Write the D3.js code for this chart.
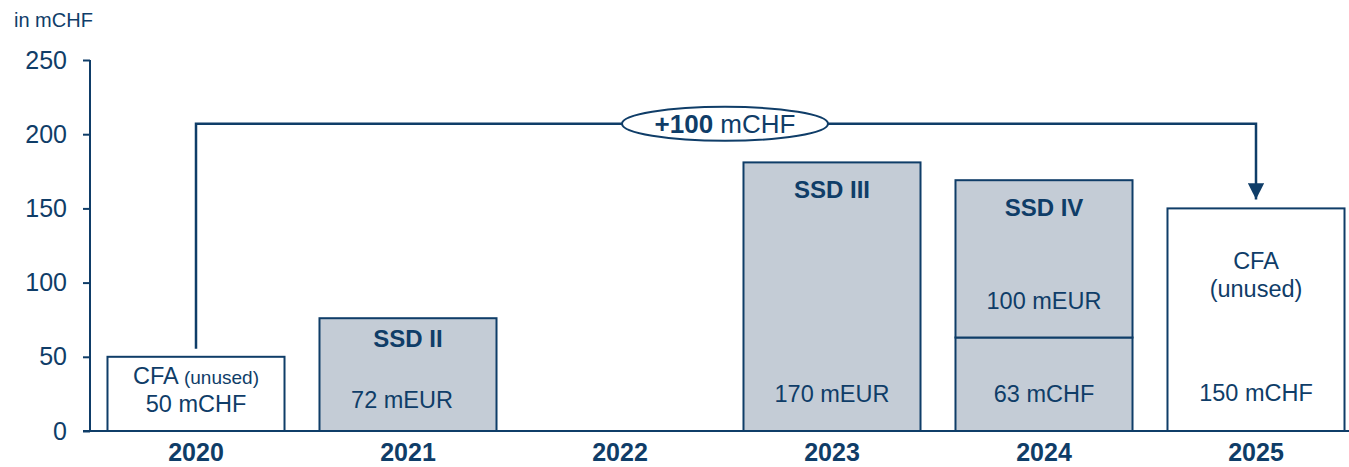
<!DOCTYPE html>
<meta charset="utf-8">
<style>
    html, body { margin: 0; background: #fff; }
    text { font-family: "Liberation Sans", Arial, sans-serif; fill: #0f3d68; }
    .axis path, .axis line { stroke: #0f3d68; stroke-width: 2px; }
    .axis text { font-size: 25px; fill: #0f3d68; font-family: "Liberation Sans", Arial, sans-serif; }
    .bar { stroke: #0f3d68; stroke-width: 2px; }
    .lbl { font-size: 23.5px; text-anchor: middle; }
    .ttl { font-size: 24px; font-weight: bold; text-anchor: middle; }
    .yr { font-size: 25px; font-weight: bold; text-anchor: middle; }
</style>
<body>
<script src="https://cdn.jsdelivr.net/npm/d3@7"></script>
<script>
    // data (mCHF)
    var years = ["2020", "2021", "2022", "2023", "2024", "2025"];
    var kind = ["cfa", "ssd", "none", "ssd", "ssd", "cfa"];
    var baseVals = [50, 76, 0, 181, 63, 150];
    var topVals = [0, 0, 0, 0, 106, 0];
    var titles = ["", "SSD II", "", "SSD III", "SSD IV", ""];
    var amounts = ["50 mCHF", "72 mEUR", "", "170 mEUR", "63 mCHF", "150 mCHF"];
    var topAmounts = ["", "", "", "", "100 mEUR", ""];
    var yTicks = [0, 50, 100, 150, 200, 250];
    var bridgeFrom = "2020", bridgeTo = "2025", bridgeLevel = 207;

    var width = 1349, height = 467;
    var x0 = 90, y0 = 431;

    var svg = d3.select("body").append("svg")
        .attr("width", width)
        .attr("height", height);

    var x = d3.scaleBand()
        .domain(years)
        .range([x0, x0 + 1272])
        .paddingInner(0.165)
        .paddingOuter(0.0825);

    var y = d3.scaleLinear()
        .domain([0, 250])
        .range([y0, 60]);

    var fill = { cfa: "#ffffff", ssd: "#c4ccd6", none: "none" };

    // bars
    var g = svg.append("g");
    years.forEach(function (yr, i) {
        if (kind[i] === "none") return;
        g.append("rect").attr("class", "bar")
            .attr("x", x(yr)).attr("width", x.bandwidth())
            .attr("y", y(baseVals[i])).attr("height", y(0) - y(baseVals[i]))
            .attr("fill", fill[kind[i]]);
        if (topVals[i] > 0) {
            g.append("rect").attr("class", "bar")
                .attr("x", x(yr)).attr("width", x.bandwidth())
                .attr("y", y(baseVals[i] + topVals[i]))
                .attr("height", y(baseVals[i]) - y(baseVals[i] + topVals[i]))
                .attr("fill", fill[kind[i]]);
        }
    });

    // axes
    svg.append("g").attr("class", "axis")
        .attr("transform", "translate(" + x0 + ",0)")
        .call(d3.axisLeft(y).tickValues(yTicks).tickSize(7).tickPadding(16).tickSizeOuter(0))
        .call(function (a) { a.select(".domain").attr("d", "M0," + y(250) + "V" + y(0)); });

    svg.append("line")
        .attr("x1", x0 - 7).attr("x2", width)
        .attr("y1", y(0)).attr("y2", y(0))
        .attr("stroke", "#0f3d68").attr("stroke-width", 2);

    svg.append("text")
        .attr("x", 14).attr("y", 27)
        .style("font-size", "20px")
        .text("in mCHF");

    // year labels
    svg.selectAll(".yr").data(years).enter().append("text")
        .attr("class", "yr")
        .attr("x", function (d) { return x(d) + x.bandwidth() / 2; })
        .attr("y", 461)
        .text(function (d) { return d; });

    // bar labels
    years.forEach(function (yr, i) {
        var cx = x(yr) + x.bandwidth() / 2;
        var top = y(baseVals[i] + topVals[i]);
        if (titles[i]) {
            g.append("text").attr("class", "ttl")
                .attr("x", cx).attr("y", top + (i === 1 ? 29 : 36)).text(titles[i]);
        }
        if (topAmounts[i]) {
            g.append("text").attr("class", "lbl")
                .attr("x", cx).attr("y", (top + y(baseVals[i])) / 2 + 50).text(topAmounts[i]);
        }
        if (kind[i] === "cfa" && i === 0) {
            var t = g.append("text").attr("class", "lbl").attr("x", cx).attr("y", top + 27);
            t.append("tspan").text("CFA ");
            t.append("tspan").style("font-size", "19px").text("(unused)");
            g.append("text").attr("class", "lbl")
                .attr("x", cx).attr("y", y(0) - 19).text(amounts[i]);
        } else if (kind[i] === "cfa") {
            g.append("text").attr("class", "lbl").attr("x", cx).attr("y", top + 61).text("CFA");
            g.append("text").attr("class", "lbl").attr("x", cx).attr("y", top + 89).text("(unused)");
            g.append("text").attr("class", "lbl")
                .attr("x", cx).attr("y", y(0) - 30).text(amounts[i]);
        } else if (amounts[i]) {
            g.append("text").attr("class", "lbl")
                .attr("x", cx - (i === 1 ? 6 : 0)).attr("y", y(0) - (i === 1 ? 23 : 29)).text(amounts[i]);
        }
    });

    // bridge arrow
    var ax1 = x(bridgeFrom) + x.bandwidth() / 2,
        ax2 = x(bridgeTo) + x.bandwidth() / 2,
        ay = y(bridgeLevel);
    svg.append("defs").append("marker")
        .attr("id", "arr").attr("viewBox", "0 0 10 10")
        .attr("refX", 10).attr("refY", 5)
        .attr("markerWidth", 6.5).attr("markerHeight", 6.5)
        .attr("markerUnits", "strokeWidth")
        .attr("orient", "auto")
        .append("path").attr("d", "M0,0L10,5L0,10z").attr("fill", "#0f3d68");

    svg.append("path")
        .attr("d", "M" + ax1 + "," + (y(baseVals[0]) - 8) + "V" + ay + "H" + ax2 + "V" + (y(baseVals[5]) - 9))
        .attr("fill", "none").attr("stroke", "#0f3d68").attr("stroke-width", 2.5)
        .attr("marker-end", "url(#arr)");

    var ecx = (x("2022") + x("2023") + x.bandwidth()) / 2 - 1;
    svg.append("ellipse")
        .attr("cx", ecx).attr("cy", ay)
        .attr("rx", 103).attr("ry", 17)
        .attr("fill", "#fff").attr("stroke", "#0f3d68").attr("stroke-width", 2);

    var bt = svg.append("text")
        .attr("x", ecx).attr("y", ay + 9)
        .attr("text-anchor", "middle")
        .style("font-size", "26px");
    bt.append("tspan").style("font-weight", "bold").text("+100");
    bt.append("tspan").text(" mCHF");
</script>
</body>
